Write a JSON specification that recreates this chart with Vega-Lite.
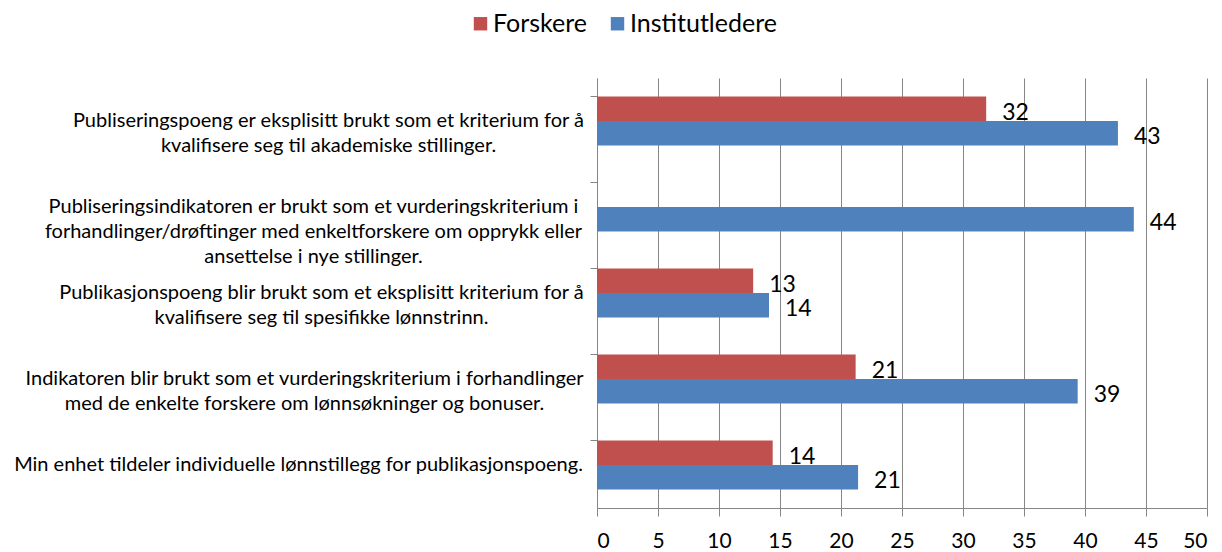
{
  "$schema": "https://vega.github.io/schema/vega-lite/v6.json",
  "width": 610,
  "height": 430,
  "autosize": "none",
  "padding": {"left": 597, "top": 78, "right": 15, "bottom": 44},
  "background": "white",
  "config": {"view": {"stroke": null}, "font": "Lato"},
  "data": {
    "values": [
      {"cat": "Publiseringspoeng er eksplisitt brukt som et kriterium for å|kvalifisere seg til akademiske stillinger.", "series": "Forskere", "value": 31.9},
      {"cat": "Publiseringspoeng er eksplisitt brukt som et kriterium for å|kvalifisere seg til akademiske stillinger.", "series": "Institutledere", "value": 42.7},
      {"cat": "Publiseringsindikatoren er brukt som et vurderingskriterium i|forhandlinger/drøftinger med enkeltforskere om opprykk eller|ansettelse i nye stillinger.", "series": "Institutledere", "value": 44.0},
      {"cat": "Publikasjonspoeng blir brukt som et eksplisitt kriterium for å|kvalifisere seg til spesifikke lønnstrinn.", "series": "Forskere", "value": 12.8},
      {"cat": "Publikasjonspoeng blir brukt som et eksplisitt kriterium for å|kvalifisere seg til spesifikke lønnstrinn.", "series": "Institutledere", "value": 14.1},
      {"cat": "Indikatoren blir brukt som et vurderingskriterium i forhandlinger|med de enkelte forskere om lønnsøkninger og bonuser.", "series": "Forskere", "value": 21.2},
      {"cat": "Indikatoren blir brukt som et vurderingskriterium i forhandlinger|med de enkelte forskere om lønnsøkninger og bonuser.", "series": "Institutledere", "value": 39.4},
      {"cat": "Min enhet tildeler individuelle lønnstillegg for publikasjonspoeng.", "series": "Forskere", "value": 14.4},
      {"cat": "Min enhet tildeler individuelle lønnstillegg for publikasjonspoeng.", "series": "Institutledere", "value": 21.4}
    ]
  },
  "encoding": {
    "y": {
      "field": "cat",
      "type": "nominal",
      "sort": null,
      "scale": {"paddingInner": 0.433, "paddingOuter": 0.2165},
      "axis": {
        "title": null,
        "labelExpr": "split(datum.label, '|')",
        "labelAlign": "center",
        "labelBaseline": "middle",
        "labelPadding": {"expr": "indexof(datum.value, 'Publiseringspoeng') == 0 ? 262 : indexof(datum.value, 'Publiseringsindikatoren') == 0 ? 277 : indexof(datum.value, 'Publikasjonspoeng') == 0 ? 269 : indexof(datum.value, 'Indikatoren') == 0 ? 286 : 292"},
        "labelFont": "Lato",
        "labelFontSize": 20,
        "labelLineHeight": 25,
        "labelColor": "black",
        "labelLimit": 0,
        "bandPosition": 0,
        "tickSize": 7,
        "tickColor": "#868686",
        "domainColor": "#868686",
        "grid": false
      }
    },
    "yOffset": {"field": "series", "sort": ["Forskere", "Institutledere"], "scale": {"paddingInner": 0, "paddingOuter": 0}},
    "x": {
      "field": "value",
      "type": "quantitative",
      "scale": {"domain": [0, 50], "nice": false},
      "axis": {
        "title": null,
        "values": [0, 5, 10, 15, 20, 25, 30, 35, 40, 45, 50],
        "grid": true,
        "gridColor": "#868686",
        "tickColor": "#868686",
        "domainColor": "#868686",
        "tickSize": 8,
        "labelFont": "Lato",
        "labelFontSize": 21,
        "labelColor": "black",
        "labelPadding": 14
      }
    }
  },
  "layer": [
    {
      "mark": {"type": "bar"},
      "encoding": {
        "color": {
          "field": "series",
          "type": "nominal",
          "scale": {"domain": ["Forskere", "Institutledere"], "range": ["#C0504D", "#4F81BD"]},
          "legend": {
            "title": null,
            "orient": "none",
            "direction": "horizontal",
            "legendX": -129,
            "legendY": -67,
            "symbolType": "square",
            "symbolSize": 180,
            "symbolStrokeWidth": 0,
            "labelFont": "Lato",
            "labelFontSize": 25,
            "labelColor": "black",
            "labelOffset": 0,
            "columnPadding": 17
          }
        }
      }
    },
    {
      "mark": {"type": "text", "align": "left", "baseline": "middle", "dx": 16, "dy": 4, "fontSize": 23, "font": "Lato", "color": "black"},
      "encoding": {"text": {"field": "value", "type": "quantitative", "format": ".0f"}}
    }
  ]
}
